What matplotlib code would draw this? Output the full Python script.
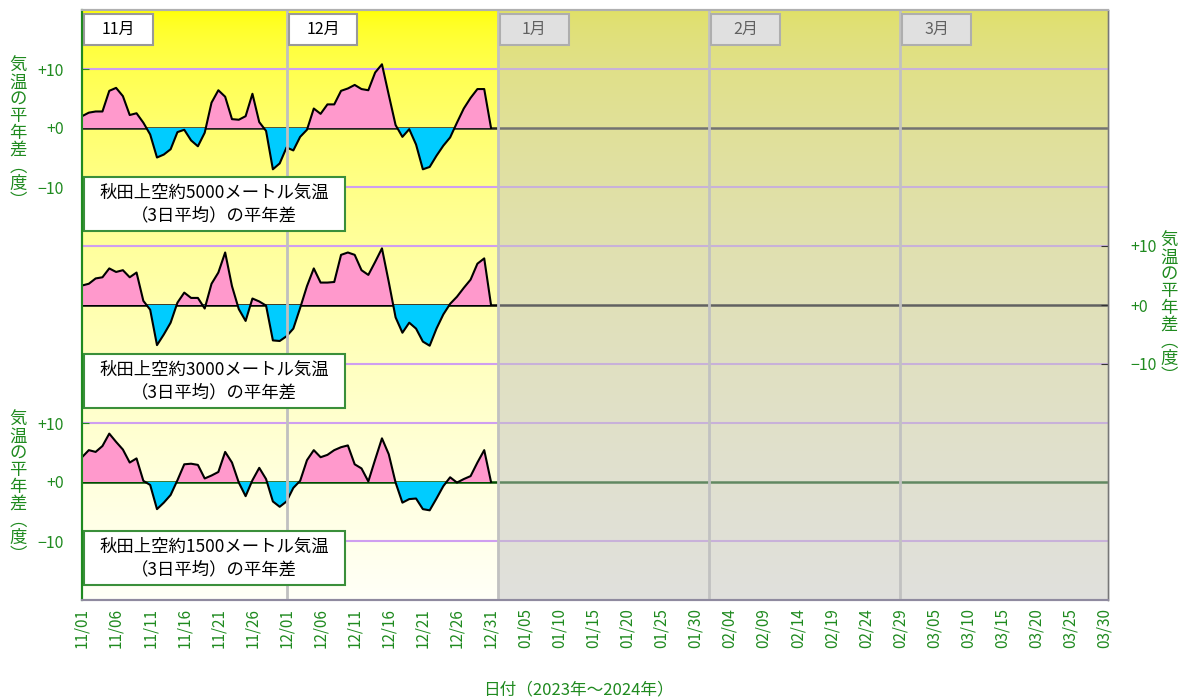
import numpy as np
import matplotlib
matplotlib.use('Agg')
import matplotlib.pyplot as plt
from matplotlib.patches import Rectangle

plt.rcParams['font.family'] = ['Noto Sans CJK JP', 'DejaVu Sans']

# ---------------- data ----------------
tick_labels = ['11/01', '11/06', '11/11', '11/16', '11/21', '11/26', '12/01', '12/06',
               '12/11', '12/16', '12/21', '12/26', '12/31', '01/05', '01/10', '01/15',
               '01/20', '01/25', '01/30', '02/04', '02/09', '02/14', '02/19', '02/24',
               '02/29', '03/05', '03/10', '03/15', '03/20', '03/25', '03/30']
tick_days = list(range(0, 151, 5))          # day index of each tick (11/01 = 0)
month_names = ['11月', '12月', '1月', '2月', '3月']
month_start = [0, 30, 61, 92, 120]           # day index of month separators

# 3-day mean anomaly (deg C), 2023-11-01 .. 2023-12-31
t5000 = [2.0, 2.6, 2.8, 2.8, 6.3, 6.8, 5.4, 2.2, 2.5, 0.9,
         -1.1, -5.0, -4.5, -3.6, -0.7, -0.3, -2.1, -3.1, -0.8, 4.3,
         6.4, 5.3, 1.5, 1.4, 2.0, 5.8, 1.0, -0.5, -7.0, -6.0,
         -3.3, -3.8, -1.5, -0.3, 3.3, 2.4, 4.0, 4.0, 6.3, 6.7,
         7.3, 6.6, 6.4, 9.4, 10.8, 5.6, 0.5, -1.5, -0.2, -2.8,
         -7.0, -6.6, -4.7, -3.0, -1.6, 0.9, 3.3, 5.1, 6.6, 6.6, 0.0]
t3000 = [3.3, 3.6, 4.5, 4.7, 6.2, 5.6, 5.9, 4.7, 5.5, 0.7,
         -0.8, -6.8, -5.0, -3.0, 0.4, 2.1, 1.2, 1.2, -0.6, 3.6,
         5.5, 8.9, 3.2, -0.7, -2.7, 1.1, 0.6, -0.1, -6.0, -6.1,
         -5.3, -4.0, -0.5, 3.2, 6.2, 3.8, 3.8, 3.9, 8.5, 8.9,
         8.5, 5.9, 5.1, 7.3, 9.6, 3.9, -2.1, -4.7, -3.0, -4.0,
         -6.2, -6.9, -4.0, -1.6, 0.2, 1.4, 2.9, 4.3, 7.0, 7.9, 0.0]
t1500 = [4.2, 5.4, 5.1, 6.1, 8.2, 6.8, 5.5, 3.3, 4.0, 0.2,
         -0.5, -4.6, -3.5, -2.2, 0.3, 3.0, 3.1, 2.9, 0.6, 1.1,
         1.7, 5.1, 3.3, -0.1, -2.4, 0.3, 2.4, 0.5, -3.3, -4.2,
         -3.3, -1.0, 0.2, 3.7, 5.4, 4.2, 4.6, 5.4, 5.9, 6.2,
         3.0, 2.3, 0.1, 3.8, 7.4, 4.7, -0.1, -3.5, -2.9, -2.8,
         -4.6, -4.8, -2.8, -0.7, 0.8, -0.1, 0.5, 1.0, 3.3, 5.4, 0.0]

series = [('秋田上空約5000メートル気温', t5000, 60),
          ('秋田上空約3000メートル気温', t3000, 30),
          ('秋田上空約1500メートル気温', t1500, 0)]

GREEN = '#1f8a1f'
XMAX = 150.5

fig = plt.figure(figsize=(11.8, 6.99), dpi=100)
ax = fig.add_axes([82 / 1180, 1 - 600 / 699, (1108 - 82) / 1180, 590 / 699])
ax.set_xlim(0, XMAX)
ax.set_ylim(-20, 80)

# background gradient (yellow at top -> ivory at bottom)
t = np.linspace(0, 1, 400)
grad = np.zeros((400, 1, 3))
grad[:, 0, 0] = 1.0
grad[:, 0, 1] = 1.0
grad[:, 0, 2] = 0.97 * np.sqrt(t)
ax.imshow(grad, extent=[0, XMAX, -20, 80], aspect='auto', zorder=0, origin='upper')

# grid lines
for yv in [-10, 10, 20, 40, 50, 70]:
    ax.axhline(yv, color='#cf9ff0', lw=1.5, zorder=1)

# month separator lines
for d in month_start[1:]:
    ax.axvline(d, color='#c0c0c0', lw=2, zorder=6)

# series
x = np.arange(len(t5000))
zero_colors = ['#222222', '#000000', '#004d00']
for (name, vals, base), zc in zip(series, zero_colors):
    v = np.array(vals)
    ax.axhline(base, color=zc, lw=1.8, zorder=2)
    ax.fill_between(x, base, base + v, where=v >= 0, interpolate=True,
                    color='#ff99cc', lw=0, zorder=3)
    ax.fill_between(x, base, base + v, where=v <= 0, interpolate=True,
                    color='#00ccff', lw=0, zorder=3)
    ax.plot(x, base + v, color='black', lw=1.5, zorder=4)

# annotation boxes
for name, vals, base in series:
    y_top = base - 8.3
    y_bot = base - 17.5
    ax.add_patch(Rectangle((0.35, y_bot), 38.2, y_top - y_bot, facecolor='white',
                           edgecolor='#3a8f3a', lw=1.5, zorder=7))
    ax.text(19.4, (y_top + y_bot) / 2, name + '\n（3日平均）の平年差', ha='center',
            va='center', fontsize=12.5, linespacing=1.35, zorder=8, color='black')

# month boxes
for mname, d in zip(month_names, month_start):
    ax.add_patch(Rectangle((d + 0.3, 74.1), 10.1, 5.2, facecolor='white',
                           edgecolor='#999999', lw=1.5, zorder=7))
    ax.text(d + 5.35, 76.7, mname, ha='center', va='center', fontsize=11.5,
            color='black', zorder=8)

# grey overlay for the period without data
ax.add_patch(Rectangle((61, -20), XMAX - 61, 100, facecolor='#c3c3c3', alpha=0.5,
                       lw=0, zorder=9))

# x axis
ax.set_xticks(tick_days)
ax.set_xticklabels(tick_labels, rotation=90, color=GREEN, fontsize=11)
ax.tick_params(axis='x', length=0, pad=6)

# left y ticks (top and bottom panels)
ax.set_yticks([-10, 0, 10, 50, 60, 70])
ax.set_yticklabels(['−10', '+0', '+10', '−10', '+0', '+10'], color=GREEN, fontsize=11.5)
ax.tick_params(axis='y', direction='in', length=5, color=GREEN, pad=13)

# right y ticks (middle panel)
ax2 = ax.twinx()
ax2.set_ylim(-20, 80)
ax2.set_yticks([20, 30, 40])
ax2.set_yticklabels(['−10', '+0', '+10'], color=GREEN, fontsize=11.5)
ax2.tick_params(axis='y', direction='in', length=5, color='#333333', pad=16)

for a in (ax, ax2):
    a.spines['left'].set_color(GREEN)
    a.spines['left'].set_linewidth(1.5)
    a.spines['top'].set_color('#b0b0b0')
    a.spines['top'].set_linewidth(1.5)
    a.spines['bottom'].set_color('#8f8a9f')
    a.spines['bottom'].set_linewidth(1.5)
    a.spines['right'].set_color('#777777')
    a.spines['right'].set_linewidth(1.0)

# vertical axis titles
vlabel = '気\n温\nの\n平\n年\n差\n︵\n度\n︶'
for xp, yp in [(18, 133), (18, 487), (1169, 308)]:
    fig.text(xp / 1180, 1 - yp / 699, vlabel, color=GREEN, fontsize=12.5,
             ha='center', va='center', linespacing=0.92)

fig.text(578 / 1180, 1 - 690 / 699, '日付（2023年～2024年）', color=GREEN, fontsize=12,
         ha='center', va='center')

fig.savefig('out.png', dpi=100)
